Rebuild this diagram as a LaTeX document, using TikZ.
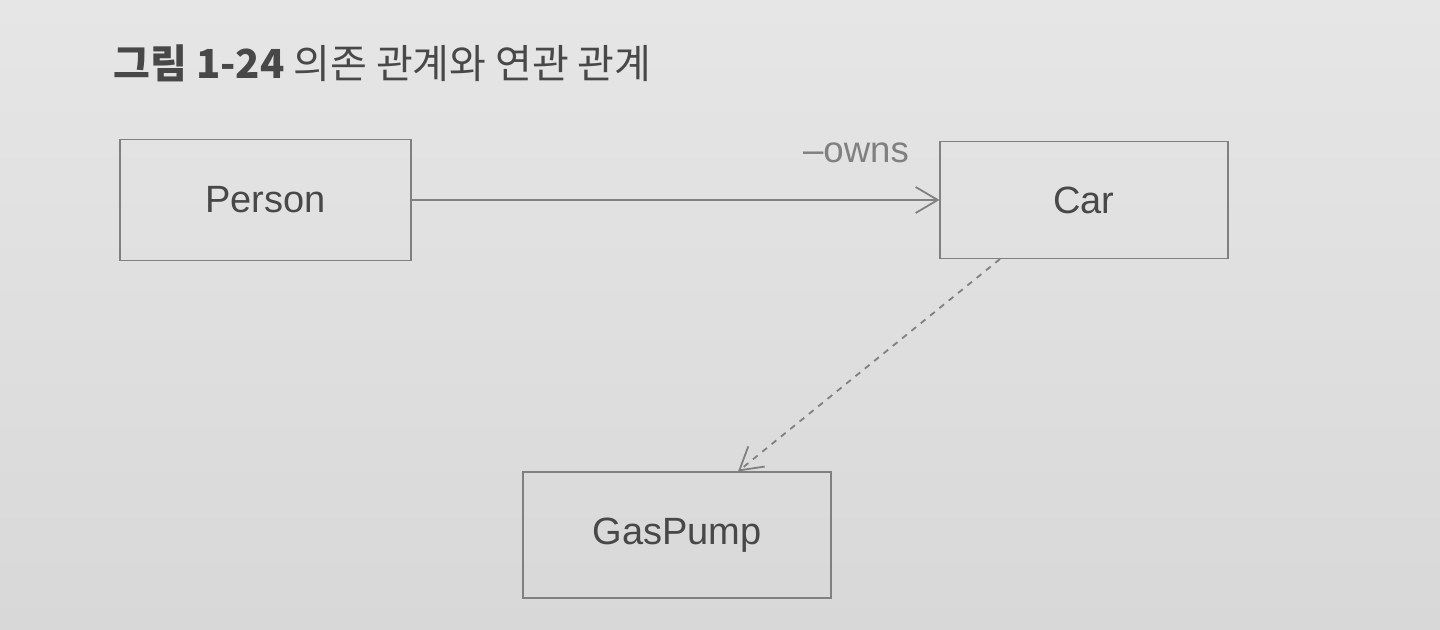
\documentclass[tikz,border=0pt]{standalone}
\usepackage{fontspec}
\setmainfont{Liberation Sans}
\newfontfamily\krfont{Noto Sans CJK KR}
\usetikzlibrary{arrows.meta}
\definecolor{paper}{RGB}{230,230,230}
\definecolor{paperdark}{RGB}{216,216,216}
\definecolor{ink}{RGB}{128,128,128}
\definecolor{txt}{RGB}{72,72,72}

\begin{document}
\begin{tikzpicture}[x=0.5pt, y=0.5pt,
  cls/.style={draw=ink, line width=0.55pt, inner sep=0pt, text=txt,
    font=\fontsize{19}{22}\selectfont},
  assoc/.style={draw=ink, line width=0.9pt, -{Straight Barb[length=11pt, width=13pt, line width=0.9pt]}},
  depend/.style={draw=ink, line width=0.9pt, dash pattern=on 3pt off 3pt,
    -{Straight Barb[length=11pt, width=13pt, line width=0.9pt]}}]

\shade[top color=paper, bottom color=paperdark] (0,0) rectangle (1440,630);

\node[anchor=base west, inner sep=0pt, text=txt, font=\krfont\fontsize{20}{24}\selectfont] (title) at (113,551)
  {\textbf{그림 1-24} 의존 관계와 연관 관계};

\node[cls, minimum width=145.5pt, minimum height=60.5pt] (person) at (265.5,430) {Person};
\node[cls, minimum width=144pt, minimum height=58.5pt] (car) at (1084,430) {Car};
\node[cls, minimum width=154pt, minimum height=63pt] (gaspump) at (677,95) {GasPump};

\draw[assoc] (person.east) to (car.west);
\node[anchor=base, text=ink, font=\fontsize{18.3}{22}\selectfont] (owns) at (856,467) {–owns};

\draw[depend] ([xshift=-42pt]car.south) to ([xshift=30.5pt]gaspump.north);

\end{tikzpicture}
\end{document}
